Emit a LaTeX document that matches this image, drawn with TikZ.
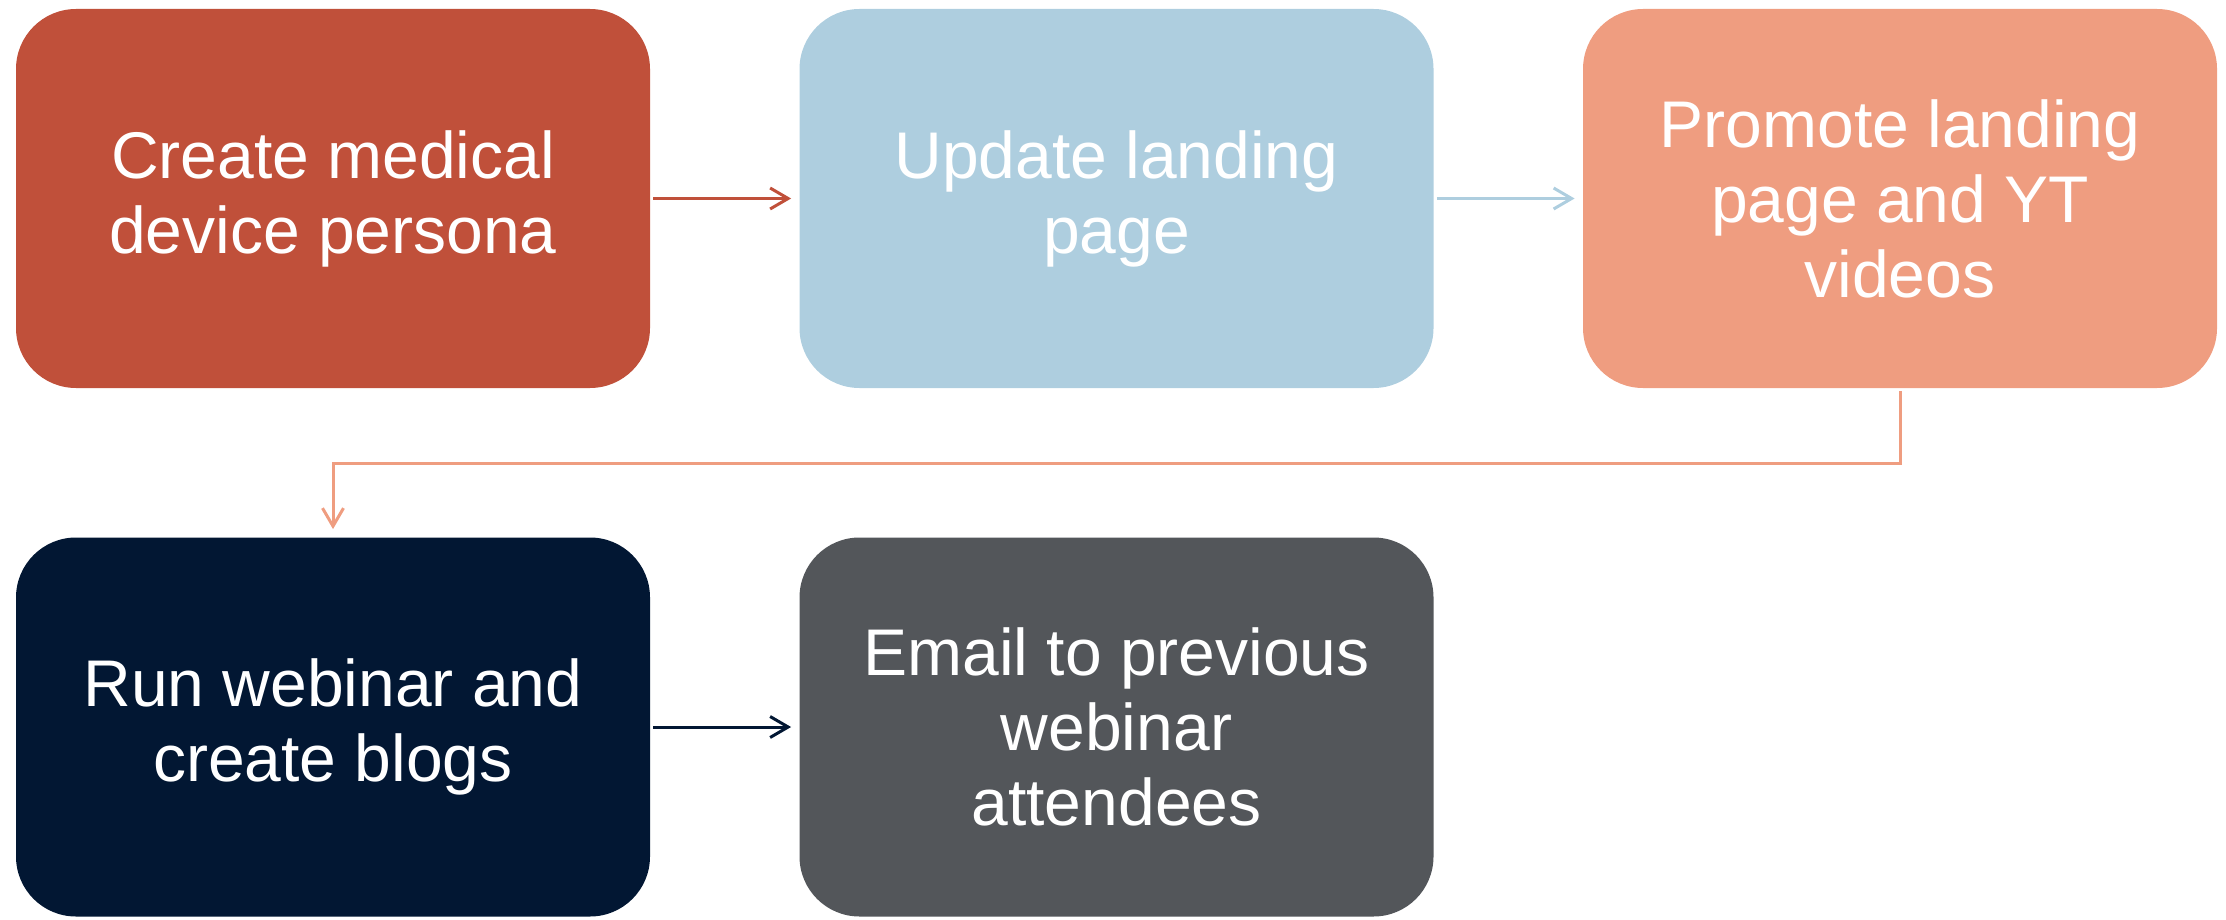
\documentclass[tikz,border=0pt]{standalone}
\usepackage{fontspec}
\setmainfont{Liberation Sans}
\usetikzlibrary{arrows.meta}

\definecolor{brick}{HTML}{C0503A}
\definecolor{skyblue}{HTML}{AECEDF}
\definecolor{salmon}{HTML}{EF9D80}
\definecolor{navy}{HTML}{021733}
\definecolor{slate}{HTML}{53565A}

\tikzset{
  stepbox/.style={rectangle, rounded corners=30pt, minimum width=317pt,
    minimum height=189.5pt, inner sep=0pt, text=white, align=center,
    font=\fontsize{33pt}{37.5pt}\selectfont},
  flow/.style={line width=1.5pt, -{Straight Barb[length=9pt,width=10.5pt,line width=1.5pt]},
    shorten <=1.5pt, shorten >=4pt}
}

\begin{document}
\begin{tikzpicture}[x=0.5pt,y=-0.5pt]
\useasboundingbox (0,0) rectangle (2226,920);

% top row
\node[stepbox, fill=brick]   (persona)  at (333,198.5)    {Create medical\\device persona};
\node[stepbox, fill=skyblue] (landing)  at (1116.5,198.5) {Update landing\\page};
\node[stepbox, fill=salmon]  (promote)  at (1900,198.5)   {Promote landing\\page and YT\\videos};

% bottom row
\node[stepbox, fill=navy]    (webinar)  at (333,727)      {Run webinar and\\create blogs};
\node[stepbox, fill=slate]   (email)    at (1116.5,727)   {Email to previous\\webinar\\attendees};

% connectors
\draw[flow, draw=brick]   (persona.east) -- (landing.west);
\draw[flow, draw=skyblue] (landing.east) -- (promote.west);
\draw[flow, draw=salmon]  (promote.south) -- ++(0,75) -| (webinar.north);
\draw[flow, draw=navy]    (webinar.east) -- (email.west);
\end{tikzpicture}
\end{document}
